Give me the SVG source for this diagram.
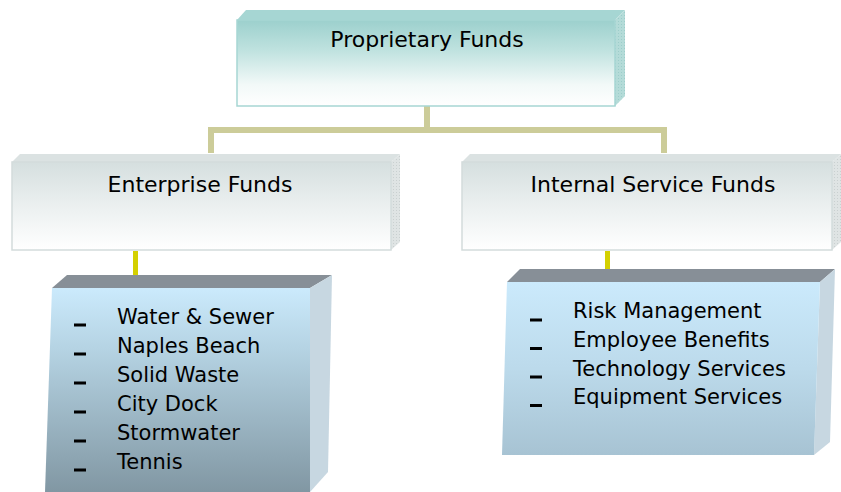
<svg xmlns="http://www.w3.org/2000/svg" width="841" height="492" viewBox="0 0 841 492">
  <defs>
    <linearGradient id="gTop" x1="0" y1="0" x2="0" y2="1">
      <stop offset="0" stop-color="#9cd0cd"/>
      <stop offset="0.35" stop-color="#bfe2df"/>
      <stop offset="0.75" stop-color="#f2f9f8"/>
      <stop offset="1" stop-color="#ffffff"/>
    </linearGradient>
    <linearGradient id="gHead" x1="0" y1="0" x2="0" y2="1">
      <stop offset="0" stop-color="#d5dfdf"/>
      <stop offset="0.45" stop-color="#e9eeee"/>
      <stop offset="1" stop-color="#ffffff"/>
    </linearGradient>
    <linearGradient id="gList1" x1="0" y1="0" x2="0" y2="1">
      <stop offset="0" stop-color="#cbeafc"/>
      <stop offset="0.3" stop-color="#b5d3e3"/>
      <stop offset="1" stop-color="#8197a3"/>
    </linearGradient>
    <linearGradient id="gList2" x1="0" y1="0" x2="0" y2="1">
      <stop offset="0" stop-color="#cbeafc"/>
      <stop offset="0.5" stop-color="#bcdaeb"/>
      <stop offset="1" stop-color="#a7c3d3"/>
    </linearGradient>
    <pattern id="texTeal" width="3" height="3" patternUnits="userSpaceOnUse">
      <rect width="3" height="3" fill="#b4dbd8"/>
      <rect width="1" height="1" fill="#9ccdca"/>
    </pattern>
    <pattern id="texGray" width="3" height="3" patternUnits="userSpaceOnUse">
      <rect width="3" height="3" fill="#dfe4e4"/>
      <rect width="1" height="1" fill="#c9d0d0"/>
    </pattern>
    <style>
      .t { font-family: "DejaVu Sans", Verdana, sans-serif; fill: #000; }
      .h { font-size: 22px; text-anchor: middle; }
      .li { font-size: 21px; }
      .dash { fill: #000; }
      .conTan { stroke: #cccc99; stroke-width: 6; fill: none; }
      .conYel { stroke: #d4d000; stroke-width: 5; fill: none; }
    </style>
  </defs>

  <g id="connectors">
    <path class="conTan" d="M427,106 V130 M211,153 V130 H664 V153"/>
    <path class="conYel" d="M135.5,251 V276"/>
    <path class="conYel" d="M607.5,251 V270"/>
  </g>

  <g id="proprietary">
    <polygon points="237,20 246,10 625,10 615,20" fill="#a6d6d3"/>
    <polygon points="615,20 625,10 625,96 615,106" fill="url(#texTeal)"/>
    <rect x="237" y="20" width="378" height="86" fill="url(#gTop)" stroke="#a6d6d3" stroke-width="1.5"/>
    <text class="t h" x="427" y="47">Proprietary Funds</text>
  </g>

  <g id="enterprise">
    <polygon points="12,162 20,154 400,154 391,162" fill="#dbe2e2"/>
    <polygon points="391,162 400,154 400,242 391,250" fill="url(#texGray)"/>
    <rect x="12" y="162" width="379" height="88" fill="url(#gHead)" stroke="#d3dcdc" stroke-width="1.5"/>
    <text class="t h" x="200" y="192">Enterprise Funds</text>
  </g>

  <g id="internal">
    <polygon points="462,162 470,154 841,154 832,162" fill="#dbe2e2"/>
    <polygon points="832,162 841,154 841,242 832,250" fill="url(#texGray)"/>
    <rect x="462" y="162" width="370" height="88" fill="url(#gHead)" stroke="#d3dcdc" stroke-width="1.5"/>
    <text class="t h" x="653" y="192">Internal Service Funds</text>
  </g>

  <g id="enterprise-list">
    <polygon points="52,288 67,275 332,275 310,288" fill="#878f97"/>
    <polygon points="310,288 332,275 328,472 310,492" fill="#c7d7e1"/>
    <polygon points="52,288 310,288 310,492 45,492" fill="url(#gList1)"/>
    <rect class="dash" x="74" y="323.5" width="12" height="3"/>
    <rect class="dash" x="74" y="352.5" width="12" height="3"/>
    <rect class="dash" x="74" y="381.5" width="12" height="3"/>
    <rect class="dash" x="74" y="410.5" width="12" height="3"/>
    <rect class="dash" x="74" y="439.5" width="12" height="3"/>
    <rect class="dash" x="74" y="468.5" width="12" height="3"/>
    <text class="t li" x="117" y="324">Water &amp; Sewer</text>
    <text class="t li" x="117" y="353">Naples Beach</text>
    <text class="t li" x="117" y="382">Solid Waste</text>
    <text class="t li" x="117" y="411">City Dock</text>
    <text class="t li" x="117" y="440">Stormwater</text>
    <text class="t li" x="117" y="469">Tennis</text>
  </g>

  <g id="internal-list">
    <polygon points="507,282 520,269 835,269 820,282" fill="#878f97"/>
    <polygon points="820,282 835,269 830,442 814,455" fill="#c7d7e1"/>
    <polygon points="507,282 820,282 814,455 502,455" fill="url(#gList2)"/>
    <rect class="dash" x="530" y="318.5" width="12" height="3"/>
    <rect class="dash" x="530" y="347" width="12" height="3"/>
    <rect class="dash" x="530" y="375.5" width="12" height="3"/>
    <rect class="dash" x="530" y="404" width="12" height="3"/>
    <text class="t li" x="573" y="318">Risk Management</text>
    <text class="t li" x="573" y="347">Employee Benefits</text>
    <text class="t li" x="573" y="375.5">Technology Services</text>
    <text class="t li" x="573" y="404">Equipment Services</text>
  </g>
</svg>
